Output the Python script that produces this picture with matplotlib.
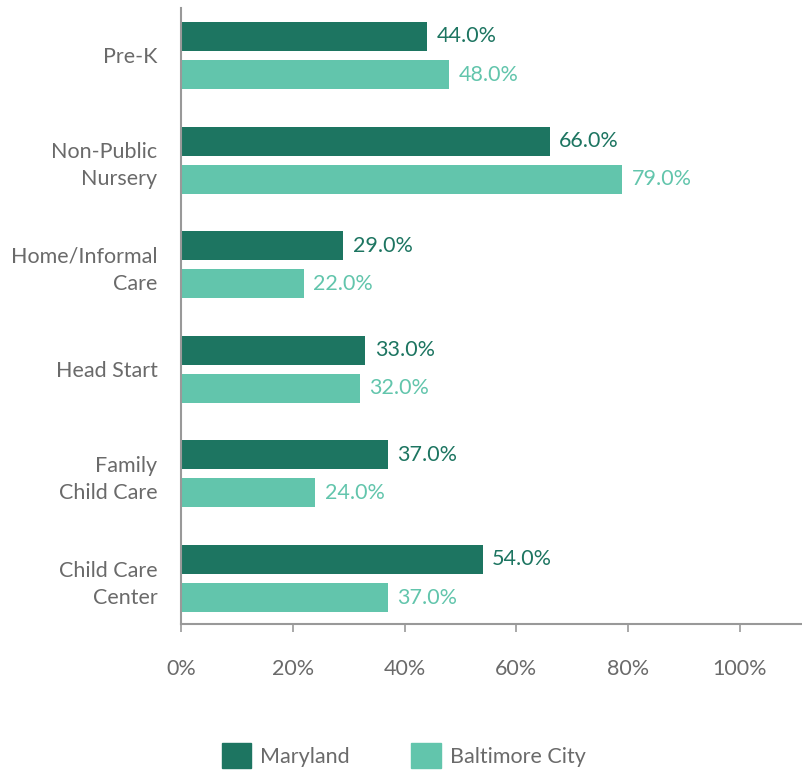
import matplotlib.pyplot as plt
import matplotlib.patches as mpatches
import numpy as np

categories = ['Pre-K', 'Non-Public\nNursery', 'Home/Informal\nCare', 'Head Start',
              'Family\nChild Care', 'Child Care\nCenter']
maryland = [44.0, 66.0, 29.0, 33.0, 37.0, 54.0]
baltimore = [48.0, 79.0, 22.0, 32.0, 24.0, 37.0]
series_names = ['Maryland', 'Baltimore City']

dark = '#1d7561'
light = '#62c5ac'
grey = '#6a6a6a'
fs = 15.5

plt.rcParams['font.family'] = ['Lato', 'DejaVu Sans']

fig = plt.figure(figsize=(8.03, 7.7), dpi=100)
ax = fig.add_axes([0.2254, 0.1896, 0.7746, 0.80])

y = np.arange(len(categories))
h = 0.277
off = 0.182
ax.barh(y - off, maryland, height=h, color=dark)
ax.barh(y + off, baltimore, height=h, color=light)

for yi, v in zip(y, maryland):
    ax.text(v + 1.7, yi - off, f'{v:.1f}%', va='center', ha='left', color=dark, fontsize=fs)
for yi, v in zip(y, baltimore):
    ax.text(v + 1.7, yi + off, f'{v:.1f}%', va='center', ha='left', color=light, fontsize=fs)

ax.set_ylim(len(categories) - 1 + 0.435, -0.454)
ax.set_xlim(0, 111.3)
ax.set_yticks(y)
ax.set_yticklabels(categories, fontsize=fs, color=grey, linespacing=1.45)
ax.tick_params(axis='y', length=0, pad=17)
ax.set_xticks([0, 20, 40, 60, 80, 100])
ax.set_xticklabels(['0%', '20%', '40%', '60%', '80%', '100%'], fontsize=fs, color=grey)
ax.tick_params(axis='x', length=6, color='#999999', width=1.2, pad=19)

for s in ['top', 'right']:
    ax.spines[s].set_visible(False)
for s in ['left', 'bottom']:
    ax.spines[s].set_color('#999999')
    ax.spines[s].set_linewidth(1.5)

handles = [mpatches.Patch(color=dark, label=series_names[0]),
           mpatches.Patch(color=light, label=series_names[1])]
leg = fig.legend(handles=handles, loc='lower left', bbox_to_anchor=(0.252, -0.022),
                 ncol=2, frameon=False, fontsize=fs, handlelength=1.35, handleheight=1.35,
                 handletextpad=0.45, columnspacing=2.85)
for t in leg.get_texts():
    t.set_color(grey)

fig.savefig('out.png', dpi=100)
